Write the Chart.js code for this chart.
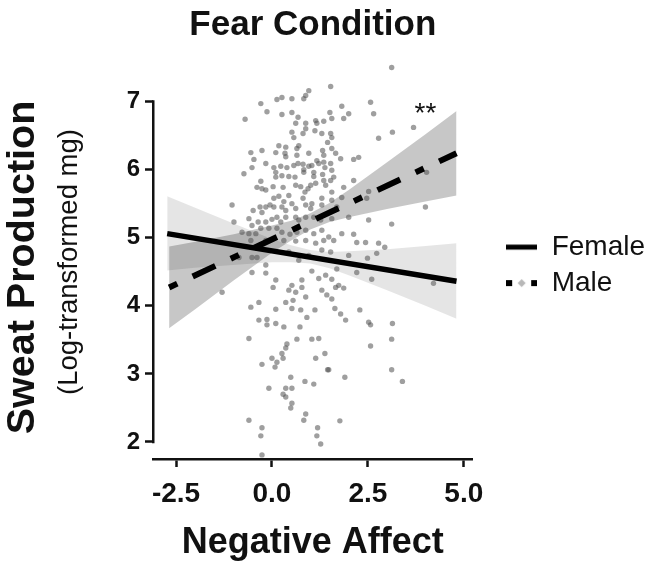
<!DOCTYPE html>
<html>
<head>
<meta charset="utf-8">
<script src="https://cdn.jsdelivr.net/npm/chart.js@4.4.1/dist/chart.umd.min.js"></script>
<style>
html,body{margin:0;padding:0;background:#fff;}
#wrap{width:651px;height:568px;}
</style>
</head>
<body>
<div id="wrap"><canvas id="c" width="651" height="568"></canvas></div>
<script>
// ---------- data ----------
const chartTitle = 'Fear Condition';
const xAxisTitle = 'Negative Affect';
const yAxisTitle = 'Sweat Production';
const yAxisSubtitle = '(Log-transformed mg)';
const seriesNames = ['Female', 'Male'];
const xTickValues = [-2.5, 0, 2.5, 5];
const xTickLabels = ['-2.5', '0.0', '2.5', '5.0'];
const yTickValues = [2, 3, 4, 5, 6, 7];
const yTickLabels = ['2', '3', '4', '5', '6', '7'];
const significanceLabel = '**';
const significancePoint = {x: 4.0, y: 6.82};

const femaleFit = [{x: -2.73, y: 5.06}, {x: 4.81, y: 4.36}];
const maleFit = [{x: -2.68, y: 4.27}, {x: 4.81, y: 6.24}];

const femaleBandUpper = [{x:-2.73,y:5.61},{x:-2,y:5.44},{x:-1,y:5.21},{x:0,y:4.98},{x:0.5,y:4.89},{x:1,y:4.82},{x:1.5,y:4.79},{x:2,y:4.80},{x:3,y:4.83},{x:4,y:4.88},{x:4.81,y:4.92}];
const femaleBandLower = [{x:-2.73,y:4.52},{x:-2,y:4.56},{x:-1,y:4.60},{x:0,y:4.64},{x:0.5,y:4.64},{x:1,y:4.62},{x:1.5,y:4.55},{x:2,y:4.45},{x:3,y:4.23},{x:4,y:4.00},{x:4.81,y:3.81}];
const maleBandUpper = [{x:-2.68,y:4.87},{x:-2,y:4.94},{x:-1,y:5.05},{x:0,y:5.18},{x:0.5,y:5.25},{x:1,y:5.36},{x:1.5,y:5.51},{x:2,y:5.70},{x:3,y:6.11},{x:4,y:6.52},{x:4.81,y:6.86}];
const maleBandLower = [{x:-2.68,y:3.67},{x:-2,y:3.95},{x:-1,y:4.37},{x:0,y:4.78},{x:0.5,y:4.96},{x:1,y:5.12},{x:1.5,y:5.23},{x:2,y:5.30},{x:3,y:5.42},{x:4,y:5.53},{x:4.81,y:5.62}];

const observations = [
[-0.70,6.74],[-0.29,6.97],[-0.13,6.85],[0.13,7.03],[0.26,7.06],[0.26,6.81],[0.52,7.04],[0.52,6.84],[0.68,6.77],[0.83,7.04],
[0.88,7.09],[0.96,7.16],[0.62,6.68],[0.88,6.68],[1.14,6.72],[0.52,6.55],[0.88,6.60],[0.57,6.47],[1.53,7.22],[1.17,6.68],
[1.51,6.84],[1.56,6.75],[1.35,6.71],[0.81,6.53],[1.12,6.57],[1.30,6.53],[1.53,6.53],[1.45,6.40],[-0.55,6.25],[-0.47,6.15],
[-0.26,6.28],[0.10,6.25],[0.36,6.33],[0.34,6.24],[0.65,6.31],[0.96,6.24],[1.32,6.28],[1.56,6.31],[1.66,6.24],[-0.73,5.94],
[-0.52,6.03],[-0.16,6.09],[0.05,6.03],[0.23,6.05],[0.39,6.03],[0.68,6.09],[0.81,6.08],[0.83,6.00],[1.04,6.06],[1.22,6.09],
[1.35,6.11],[1.53,6.09],[1.56,5.99],[0.10,5.89],[0.26,5.91],[0.60,5.89],[1.09,5.90],[1.32,5.93],[1.53,5.84],[-0.39,5.74],
[-0.26,5.72],[0.03,5.75],[0.29,5.74],[0.62,5.77],[0.75,5.75],[1.01,5.77],[1.35,5.84],[0.05,5.58],[0.18,5.61],[0.31,5.53],
[0.52,5.50],[0.81,5.58],[1.04,5.50],[1.30,5.58],[1.56,5.55],[-1.04,5.48],[-0.31,5.45],[-0.16,5.45],[-0.05,5.48],[0.05,5.45],
[0.26,5.45],[0.62,5.43],[1.01,5.43],[-0.52,5.18],[-0.36,5.23],[-0.99,5.23],[-0.78,5.08],[-0.60,5.06],[-0.42,5.06],[-0.16,5.23],
[0.13,5.30],[0.36,5.30],[0.62,5.30],[0.88,5.30],[1.09,5.30],[0.18,6.35],[0.70,6.35],[0.36,6.19],[0.65,6.21],[1.35,6.21],
[0.57,6.06],[0.96,6.05],[1.17,6.13],[1.38,6.03],[0.10,5.96],[0.44,5.90],[0.83,5.96],[1.09,5.96],[-0.29,5.83],[-0.16,5.70],
[0.94,5.72],[1.14,5.80],[1.40,5.77],[1.61,5.89],[0.44,5.62],[0.86,5.67],[1.56,5.67],[-0.49,5.40],[-0.26,5.37],[0.36,5.40],
[0.88,5.48],[1.30,5.48],[-0.60,5.28],[0.00,5.27],[0.23,5.23],[0.70,5.26],[1.27,5.26],[1.56,5.28],[-0.29,5.14],[-0.08,5.14],
[0.13,5.14],[0.26,5.08],[0.47,5.05],[0.65,5.08],[0.88,5.11],[1.09,5.06],[1.30,5.11],[1.48,5.01],[-0.55,4.96],[-0.16,4.96],
[0.31,4.96],[0.62,4.95],[0.88,4.96],[1.14,4.92],[1.35,4.96],[1.61,4.96],[3.12,7.50],[2.57,6.99],[2.65,6.82],[1.82,6.93],
[2.00,6.82],[1.87,6.75],[2.78,6.46],[3.14,6.55],[3.69,6.62],[1.56,6.47],[2.13,6.15],[2.26,6.18],[1.79,6.16],[1.87,5.74],
[2.13,5.84],[1.82,5.59],[2.52,5.68],[2.47,5.58],[1.69,5.45],[2.00,5.30],[2.52,5.26],[4.00,5.45],[3.12,5.20],[1.82,5.06],
[2.13,5.05],[2.44,4.93],[2.78,4.92],[4.03,5.96],[1.53,4.79],[2.21,4.93],[2.73,4.77],[2.94,4.86],[2.00,4.74],[2.49,4.70],
[2.21,4.49],[2.60,4.39],[1.69,4.54],[1.74,4.30],[1.87,4.26],[1.56,4.10],[1.64,3.96],[2.29,3.94],[1.79,3.88],[1.92,3.79],
[2.52,3.76],[2.57,3.72],[3.14,3.74],[3.12,3.51],[2.57,3.41],[3.12,3.06],[3.40,2.89],[1.90,2.95],[1.48,3.06],[1.77,2.31],
[4.21,4.33],[-1.30,4.20],[-0.52,4.49],[-0.16,4.48],[-0.86,4.71],[-0.39,4.71],[0.10,4.38],[0.03,4.27],[0.52,4.30],[0.78,4.38],
[0.78,4.27],[0.62,4.20],[-0.34,4.05],[-0.55,3.98],[0.10,3.95],[0.36,4.05],[0.55,4.08],[0.52,3.96],[0.75,3.94],[1.12,3.94],
[1.30,4.23],[1.43,4.16],[0.91,3.83],[-0.34,3.79],[-0.13,3.80],[-0.13,3.72],[0.10,3.74],[0.31,3.69],[0.73,3.69],[-0.60,3.52],
[0.65,3.51],[1.04,3.51],[1.22,3.52],[0.39,3.44],[0.36,3.38],[0.26,3.30],[0.29,3.23],[0.00,3.23],[0.13,3.17],[-0.26,3.14],
[0.08,3.10],[1.14,3.23],[1.38,3.30],[1.45,3.06],[0.49,2.95],[0.86,2.89],[-0.08,2.79],[0.36,2.79],[0.52,2.79],[1.09,2.85],
[0.29,2.70],[0.36,2.66],[0.52,2.57],[0.49,2.50],[-0.60,2.32],[-0.26,2.21],[-0.29,2.09],[0.88,2.41],[0.83,2.32],[1.19,2.21],
[1.17,2.09],[1.27,1.97],[-0.26,1.81],[-0.52,4.71],[-0.16,4.60],[0.44,4.23],[0.88,4.13],[1.04,4.51],[1.22,4.40],[1.40,4.45],
[1.56,4.39],[1.66,4.27],[0.70,4.67],[1.30,4.82],[0.44,4.79],[0.96,4.74]
];

// ---------- styling ----------
const FONT = '"Liberation Sans", Arial, Helvetica, sans-serif';
const INK = '#111';

function makeIcon(kind) {
  const c = document.createElement('canvas');
  c.width = 31; c.height = 10;
  const g = c.getContext('2d');
  g.fillStyle = '#000';
  if (kind === 'solid') {
    g.fillRect(0, 2.5, 31, 5);
  } else {
    g.fillRect(0, 2, 6, 6);
    g.fillRect(25, 2, 6, 6);
    g.fillStyle = '#b8b8b8';
    g.beginPath();
    g.moveTo(15.5, 1); g.lineTo(19.5, 5); g.lineTo(15.5, 9); g.lineTo(11.5, 5);
    g.closePath(); g.fill();
  }
  return c;
}
const legendIcons = [makeIcon('solid'), makeIcon('dashdot')];

const extras = {
  id: 'extras',
  afterDraw(chart) {
    const {ctx, chartArea, scales} = chart;
    const ys = scales.y, xs = scales.x;
    ctx.save();
    // offset y-axis line spanning the tick range
    ctx.strokeStyle = INK;
    ctx.lineWidth = 2.5;
    ctx.beginPath();
    const ax = chartArea.left + 0.25;
    ctx.moveTo(ax, ys.getPixelForValue(yTickValues[yTickValues.length - 1]) - 1.25);
    ctx.lineTo(ax, ys.getPixelForValue(yTickValues[0]) + 1.25);
    ctx.stroke();
    // significance marker
    ctx.fillStyle = INK;
    ctx.font = '28px ' + FONT;
    ctx.textAlign = 'center';
    ctx.textBaseline = 'middle';
    ctx.fillText(significanceLabel, xs.getPixelForValue(significancePoint.x), ys.getPixelForValue(significancePoint.y));
    // y-axis title and subtitle (rotated)
    ctx.save();
    ctx.translate(23, 267.5);
    ctx.rotate(-Math.PI / 2);
    ctx.font = 'bold 39.5px ' + FONT;
    ctx.fillText(yAxisTitle, 0, 0);
    ctx.restore();
    ctx.translate(69, 262);
    ctx.rotate(-Math.PI / 2);
    ctx.font = '27.5px ' + FONT;
    ctx.fillText(yAxisSubtitle, 0, 0);
    ctx.restore();
  }
};

const lineBase = {type: 'line', pointRadius: 0, pointHoverRadius: 0, xAxisID: 'x', yAxisID: 'y'};

new Chart(document.getElementById('c'), {
  type: 'scatter',
  data: {
    datasets: [
      Object.assign({}, lineBase, {label: 'Female CI upper', data: femaleBandUpper, fill: '+1',
        backgroundColor: 'rgba(0,0,0,0.10)', borderColor: 'transparent', borderWidth: 0, order: 6}),
      Object.assign({}, lineBase, {label: 'Female CI lower', data: femaleBandLower, fill: false,
        borderColor: 'transparent', borderWidth: 0, order: 6}),
      Object.assign({}, lineBase, {label: 'Male CI upper', data: maleBandUpper, fill: '+1',
        backgroundColor: 'rgba(0,0,0,0.22)', borderColor: 'transparent', borderWidth: 0, order: 5}),
      Object.assign({}, lineBase, {label: 'Male CI lower', data: maleBandLower, fill: false,
        borderColor: 'transparent', borderWidth: 0, order: 5}),
      {type: 'scatter', label: 'Observations', xAxisID: 'x', yAxisID: 'y',
        data: observations.map(p => ({x: p[0], y: p[1]})),
        pointRadius: 2.7, pointBorderWidth: 0, pointBackgroundColor: 'rgba(80,80,80,0.55)',
        pointBorderColor: 'transparent', order: 3},
      Object.assign({}, lineBase, {label: seriesNames[1], data: maleFit, borderColor: '#000', borderWidth: 6,
        borderDash: [9, 17, 25, 17], borderCapStyle: 'butt', fill: false, order: 2}),
      Object.assign({}, lineBase, {label: seriesNames[0], data: femaleFit, borderColor: '#000', borderWidth: 5.5,
        borderCapStyle: 'butt', fill: false, order: 1})
    ]
  },
  options: {
    responsive: false,
    animation: false,
    devicePixelRatio: 1,
    layout: {padding: {left: 0, right: -4, top: 0, bottom: 0}},
    plugins: {
      tooltip: {enabled: false},
      title: {
        display: true, text: chartTitle, color: INK, fullSize: false,
        font: {family: FONT, size: 35, weight: 'bold'},
        padding: {top: 4.5, bottom: 13.5}
      },
      legend: {
        display: true, position: 'right', fullSize: false, align: 'center', maxWidth: 200,
        title: {display: true, text: ' ', font: {size: 1}, padding: {top: 10, bottom: 0}},
        labels: {
          usePointStyle: true, pointStyleWidth: 32, padding: 8, color: INK,
          font: {family: FONT, size: 28},
          generateLabels: () => seriesNames.map((n, i) => ({
            text: n, pointStyle: legendIcons[i], fillStyle: '#000', strokeStyle: '#000',
            lineWidth: 0, hidden: false, fontColor: INK, datasetIndex: 6 - i
          }))
        }
      }
    },
    scales: {
      x: {
        type: 'linear', position: 'bottom', min: -3.1, max: 5.23,
        afterBuildTicks: s => { s.ticks = xTickValues.map(v => ({value: v})); },
        afterFit: s => { s.height = 109; },
        grid: {drawOnChartArea: false, drawTicks: true, tickLength: 8, tickWidth: 2.5, tickColor: INK},
        border: {display: true, color: INK, width: 2.5},
        ticks: {padding: 10, color: INK, autoSkip: false, maxRotation: 0,
          font: {family: FONT, size: 28, weight: 'bold'},
          callback: (v, i) => xTickLabels[i]},
        title: {display: true, text: xAxisTitle, color: INK,
          font: {family: FONT, size: 36, weight: 'bold'}, padding: {top: 0, bottom: 3}}
      },
      y: {
        type: 'linear', position: 'left', min: 1.75, max: 7.61,
        afterBuildTicks: s => { s.ticks = yTickValues.map(v => ({value: v})); },
        afterFit: s => { s.width = 153; },
        grid: {drawOnChartArea: false, drawTicks: true, tickLength: 8, tickWidth: 2.5, tickColor: INK},
        border: {display: false},
        ticks: {padding: 5, color: INK, autoSkip: false,
          font: {family: FONT, size: 24, weight: 'bold'},
          callback: (v, i) => yTickLabels[i]},
        title: {display: false, text: yAxisTitle}
      },
      spacer: {
        type: 'linear', position: 'right', display: true,
        grid: {display: false}, border: {display: false}, ticks: {display: false},
        afterFit: s => { s.width = 25; }
      }
    }
  },
  plugins: [extras]
});
</script>
</body>
</html>
